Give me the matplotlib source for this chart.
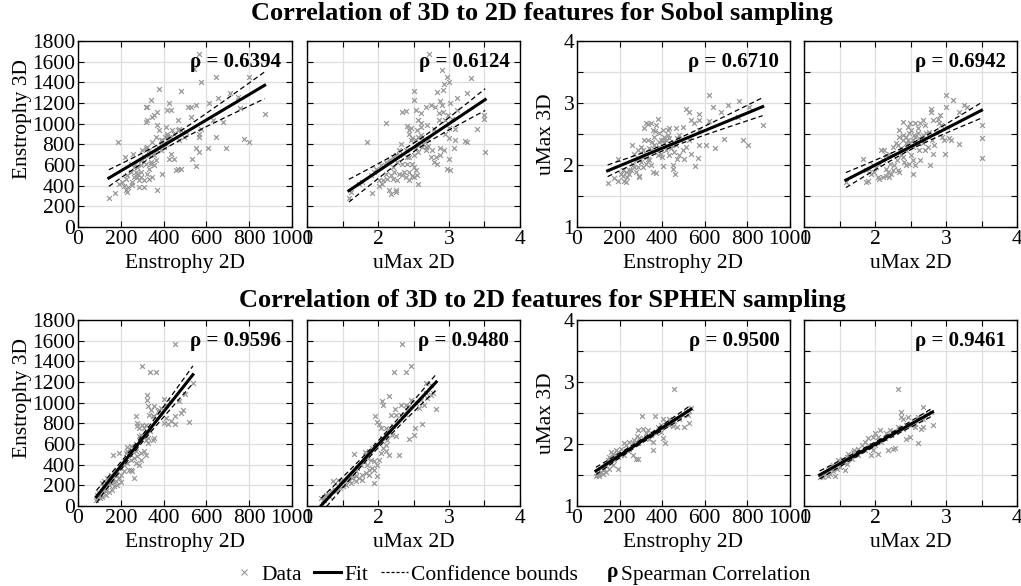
import numpy as np
import matplotlib
matplotlib.use("Agg")
from matplotlib import pyplot as plt
from matplotlib.lines import Line2D
from matplotlib.text import Text
from matplotlib.legend_handler import HandlerBase

plt.rcParams["font.family"] = ["Liberation Serif", "DejaVu Serif"]
plt.rcParams["mathtext.fontset"] = "stix"

# ---- data: (x, y) pairs per panel ----
# Sobol sampling
sobol_e2d_e3d = [
    (144, 285), (175, 330), (188, 824), (225, 362), (230, 340), (235, 388), (214, 394),
    (191, 420), (258, 711), (218, 679), (246, 614), (261, 582), (269, 533), (277, 485),
    (285, 452), (293, 533), (300, 646), (300, 743), (316, 760), (324, 776), (316, 1018),
    (324, 1034), (343, 1228), (316, 1164), (324, 1164), (347, 1067), (355, 1083),
    (371, 1115), (379, 1332), (347, 824), (332, 743), (355, 695), (371, 986), (379, 937),
    (363, 873), (387, 840), (371, 355), (394, 517), (355, 598), (339, 614), (332, 566),
    (324, 517), (347, 485), (332, 469), (308, 388), (285, 388), (254, 404), (277, 582),
    (293, 598), (316, 608), (339, 630), (363, 646), (387, 743), (402, 776), (410, 808),
    (418, 840), (426, 873), (418, 905), (410, 970), (426, 1196), (418, 1131), (434, 1131),
    (434, 873), (441, 937), (449, 905), (465, 937), (472, 953), (480, 937), (465, 1034),
    (480, 1315), (434, 711), (449, 663), (426, 663), (457, 549), (465, 566), (480, 566),
    (472, 840), (496, 873), (504, 921), (512, 1164), (527, 1164), (551, 1180), (527, 1067),
    (551, 760), (535, 663), (551, 588), (566, 727), (566, 873), (566, 905), (574, 953),
    (574, 1406), (566, 1674), (543, 1525), (613, 1202), (606, 760), (629, 1034),
    (645, 1455), (652, 1244), (645, 873), (692, 760), (676, 1018), (708, 1293),
    (747, 1260), (778, 850), (797, 824), (801, 1448), (755, 1147), (872, 1089),
    (394, 840), (405, 873), (414, 879), (399, 808), (387, 792), (374, 776), (367, 743),
    (351, 711), (332, 695), (308, 679), (293, 646), (264, 614), (246, 533), (230, 501),
    (222, 469), (207, 436), (261, 485), (250, 436), (293, 485), (308, 452), (274, 517),
]
sobol_u2d_e3d = [
    (1.59, 284), (1.62, 339), (1.84, 824), (1.91, 333), (2.02, 398), (2.07, 452),
    (2.11, 1008), (2.15, 362), (2.18, 323), (2.25, 339), (2.26, 355), (2.21, 462),
    (2.22, 533), (2.18, 501), (2.13, 469), (2.11, 517), (2.06, 420), (2.01, 452),
    (2.21, 582), (2.27, 630), (2.30, 695), (2.34, 1115), (2.40, 1125), (2.41, 976),
    (2.44, 937), (2.46, 840), (2.39, 743), (2.41, 679), (2.34, 614), (2.36, 533),
    (2.34, 501), (2.39, 485), (2.44, 533), (2.48, 614), (2.48, 491), (2.44, 452),
    (2.50, 582), (2.53, 549), (2.51, 485), (2.55, 501), (2.57, 414), (2.50, 1315),
    (2.50, 1228), (2.54, 1131), (2.57, 1034), (2.60, 1105), (2.55, 937), (2.60, 970),
    (2.47, 963), (2.44, 905), (2.48, 857), (2.53, 840), (2.56, 873), (2.60, 889),
    (2.62, 873), (2.64, 840), (2.57, 792), (2.62, 776), (2.67, 743), (2.67, 776),
    (2.71, 782), (2.71, 847), (2.63, 808), (2.69, 986), (2.68, 1164), (2.74, 1180),
    (2.79, 953), (2.80, 1164), (2.86, 1034), (2.86, 1099), (2.88, 1222), (2.90, 1180),
    (2.91, 1115), (2.99, 1083), (2.83, 1309), (2.91, 1325), (2.93, 1383), (2.97, 1454),
    (3.00, 1406), (2.90, 1519), (2.72, 1674), (3.11, 1244), (3.02, 1202), (3.25, 1293),
    (3.31, 1445), (3.11, 1131), (3.04, 1050), (2.95, 1034), (3.00, 960), (2.95, 905),
    (3.00, 857), (3.09, 840), (3.09, 953), (3.22, 834), (3.25, 824), (3.39, 944),
    (3.50, 1083), (3.50, 1041), (3.51, 727), (2.88, 760), (2.93, 743), (3.07, 760),
    (2.88, 695), (2.81, 679), (2.79, 630), (2.83, 614), (3.00, 663), (2.97, 566),
    (3.02, 549), (2.76, 743), (2.75, 679), (2.29, 743), (2.32, 808), (2.25, 695),
    (2.21, 679), (2.15, 653), (2.11, 630), (2.04, 598), (1.97, 566), (1.94, 533),
    (1.90, 501), (1.78, 436), (1.73, 414), (2.30, 517), (2.27, 452), (2.41, 614),
    (2.44, 679), (2.50, 695), (2.57, 727), (2.53, 760), (2.60, 1002),
]
sobol_e2d_u3d = [
    (144, 1.71), (175, 1.79), (191, 1.75), (191, 2.10), (214, 1.83), (222, 1.75),
    (230, 1.73), (233, 1.81), (246, 1.86), (243, 1.92), (261, 2.00), (258, 2.32),
    (277, 1.89), (285, 1.97), (290, 1.82), (300, 2.05), (308, 2.13), (316, 2.60),
    (324, 2.67), (332, 2.66), (347, 2.67), (355, 2.56), (339, 2.27), (324, 2.18),
    (332, 2.10), (347, 2.00), (355, 1.89), (371, 1.87), (368, 2.55), (379, 2.75),
    (371, 2.64), (363, 2.45), (352, 2.37), (316, 2.40), (300, 2.29), (285, 2.24),
    (269, 2.18), (371, 2.24), (387, 2.29), (394, 2.18), (402, 2.40), (410, 2.45),
    (418, 2.40), (426, 2.48), (434, 2.43), (441, 2.32), (402, 1.98), (399, 2.13),
    (434, 2.16), (449, 2.00), (449, 1.93), (460, 1.85), (426, 2.56), (434, 2.60),
    (465, 2.59), (465, 2.32), (472, 2.43), (480, 2.48), (472, 2.10), (480, 2.16),
    (488, 2.40), (496, 2.62), (504, 2.10), (512, 2.91), (527, 2.86), (535, 2.72),
    (535, 2.18), (551, 2.67), (556, 1.99), (566, 2.12), (571, 2.32), (574, 2.83),
    (574, 2.72), (571, 2.56), (527, 2.40), (512, 2.29), (496, 2.24), (457, 2.21),
    (606, 2.32), (621, 2.71), (621, 3.13), (641, 2.94), (648, 2.28), (676, 2.86),
    (692, 2.42), (708, 2.97), (762, 3.04), (755, 2.77), (778, 2.41), (801, 2.33),
    (809, 2.94), (872, 2.65), (387, 2.51), (402, 2.56), (410, 2.35), (387, 2.37),
    (363, 2.32), (347, 2.24), (332, 2.40), (316, 2.16), (293, 2.10), (277, 2.08),
    (269, 1.97), (254, 1.92), (230, 1.89), (214, 1.92), (207, 1.86), (293, 1.81),
    (308, 1.97), (324, 2.02), (339, 2.08), (308, 2.24), (379, 2.16), (418, 2.24),
    (441, 2.27), (457, 2.35), (394, 2.40),
]
sobol_u2d_u3d = [
    (1.59, 1.73), (1.83, 2.10), (1.87, 1.73), (1.90, 1.75), (1.94, 1.86), (1.99, 1.89),
    (2.04, 1.81), (2.06, 1.78), (2.08, 2.24), (2.13, 2.25), (2.11, 1.81), (2.15, 1.83),
    (2.18, 1.89), (2.20, 1.81), (2.22, 1.86), (2.25, 1.92), (2.27, 2.00), (2.32, 1.92),
    (2.34, 1.89), (2.32, 2.32), (2.34, 2.56), (2.39, 2.70), (2.36, 2.27), (2.39, 2.13),
    (2.41, 2.05), (2.43, 2.24), (2.44, 2.35), (2.47, 2.40), (2.48, 2.51), (2.49, 2.67),
    (2.53, 2.40), (2.53, 2.29), (2.50, 2.16), (2.53, 2.08), (2.54, 1.85), (2.48, 2.02),
    (2.43, 2.00), (2.57, 2.45), (2.57, 2.67), (2.60, 2.51), (2.61, 2.35), (2.62, 2.24),
    (2.64, 2.67), (2.67, 2.72), (2.69, 2.40), (2.71, 2.24), (2.64, 2.08), (2.57, 2.00),
    (2.71, 2.64), (2.72, 2.51), (2.76, 2.53), (2.77, 2.00), (2.79, 2.91), (2.79, 2.86),
    (2.81, 2.72), (2.80, 2.40), (2.82, 2.18), (2.83, 2.32), (2.86, 2.53), (2.88, 2.75),
    (2.90, 2.67), (2.91, 2.80), (2.93, 2.64), (2.94, 2.45), (2.97, 2.40), (2.99, 2.18),
    (3.00, 2.94), (3.00, 3.13), (3.02, 2.62), (3.04, 2.43), (3.07, 2.40), (3.10, 3.05),
    (3.18, 2.86), (3.18, 2.34), (3.25, 2.97), (3.30, 2.94), (3.50, 2.64), (3.50, 2.43),
    (3.50, 2.12), (2.39, 2.40), (2.34, 2.45), (2.29, 2.35), (2.25, 2.29), (2.20, 2.18),
    (2.15, 2.16), (2.11, 2.08), (2.06, 2.02), (2.01, 1.97), (1.97, 2.00), (1.92, 1.94),
    (1.87, 1.92), (2.39, 2.48), (2.43, 2.45), (2.48, 2.35), (2.55, 2.48), (2.62, 2.43),
    (2.67, 2.48), (2.50, 2.56), (2.46, 2.62), (2.60, 2.59), (2.67, 2.35), (2.74, 2.29),
    (2.25, 2.16), (2.31, 2.08), (2.36, 2.16), (2.15, 1.94), (2.21, 2.02),
]

# SPHEN sampling
sphen_e2d_e3d = [
    (451, 1568), (301, 1358), (337, 1297), (364, 1297), (537, 1190), (521, 813),
    (501, 1084), (474, 1013), (482, 900), (451, 868), (400, 1036), (411, 981),
    (432, 1013), (388, 949), (356, 965), (353, 868), (322, 1071), (322, 1029),
    (325, 965), (341, 932), (333, 884), (349, 868), (372, 916), (380, 932), (411, 852),
    (403, 803), (419, 794), (435, 820), (451, 794), (490, 932), (270, 868), (278, 803),
    (286, 755), (275, 771), (301, 787), (309, 755), (317, 787), (317, 706), (317, 642),
    (338, 723), (356, 658), (294, 690), (286, 674), (325, 658), (325, 610), (349, 642),
    (270, 600), (246, 577), (231, 568), (228, 529), (223, 513), (191, 513), (165, 497),
    (254, 545), (270, 529), (294, 513), (309, 529), (317, 497), (294, 448), (278, 481),
    (262, 465), (246, 448), (231, 416), (215, 400), (199, 368), (184, 335), (176, 303),
    (160, 271), (144, 239), (129, 190), (113, 142), (97, 94), (89, 77), (86, 61),
    (105, 110), (121, 158), (141, 213), (157, 255), (168, 319), (246, 352), (254, 335),
    (270, 416), (286, 400), (262, 271), (238, 352), (215, 335), (199, 303), (191, 271),
    (176, 245), (160, 223), (144, 206), (121, 239), (113, 223), (118, 190), (129, 142),
    (157, 158), (168, 190), (184, 206), (199, 232), (176, 287), (152, 303), (136, 271),
    (97, 126), (89, 110), (105, 77), (113, 84), (129, 110), (144, 135),
]
sphen_u2d_e3d = [
    (2.34, 1568), (2.22, 1297), (2.39, 1297), (2.47, 1358), (2.82, 942), (2.68, 1190),
    (2.78, 1094), (2.74, 1077), (2.62, 794), (2.52, 755), (2.50, 684), (2.44, 652),
    (2.29, 490), (2.46, 1029), (2.44, 965), (2.41, 932), (2.39, 974), (2.32, 974),
    (2.24, 942), (2.18, 884), (2.25, 884), (2.32, 884), (2.38, 890), (2.16, 1068),
    (2.05, 1013), (2.07, 974), (1.96, 868), (1.99, 813), (2.01, 794), (2.04, 755),
    (2.11, 755), (2.15, 739), (2.21, 771), (2.26, 674), (2.20, 690), (2.11, 690),
    (2.06, 658), (2.13, 642), (2.11, 594), (2.07, 561), (2.11, 529), (2.16, 497),
    (2.04, 513), (1.97, 594), (1.92, 561), (1.87, 529), (1.83, 497), (1.66, 503),
    (1.81, 519), (1.85, 464), (1.90, 448), (1.94, 432), (1.99, 400), (2.02, 448),
    (1.92, 368), (1.87, 352), (1.85, 400), (1.95, 352), (1.87, 303), (1.99, 287),
    (1.94, 223), (1.83, 319), (1.78, 303), (1.80, 432), (1.76, 400), (1.71, 368),
    (1.69, 335), (1.66, 319), (1.64, 303), (1.59, 277), (1.57, 255), (1.52, 239),
    (1.48, 213), (1.43, 190), (1.38, 168), (1.34, 142), (1.29, 116), (1.24, 84),
    (1.22, 61), (1.36, 245), (1.43, 255), (1.48, 239), (1.59, 255), (1.64, 271),
    (1.69, 287), (1.73, 271), (1.78, 255), (1.69, 239), (1.62, 223), (1.55, 206),
    (1.50, 190), (1.46, 174), (1.41, 148), (1.27, 110), (1.31, 94), (1.20, 77),
    (1.24, 61), (2.67, 1094), (2.60, 1029), (2.53, 997), (2.58, 948), (2.65, 974),
    (2.69, 1045), (2.74, 1174),
]
sphen_e2d_u3d = [
    (454, 2.88), (305, 2.45), (368, 2.45), (405, 2.41), (434, 2.41), (465, 2.42),
    (524, 2.34), (504, 2.27), (472, 2.27), (449, 2.29), (405, 2.09), (415, 2.01),
    (358, 1.90), (394, 2.19), (371, 2.17), (347, 2.14), (324, 2.17), (332, 2.22),
    (308, 2.25), (285, 2.22), (280, 2.13), (293, 2.09), (269, 2.06), (261, 2.01),
    (285, 2.01), (246, 2.03), (230, 1.98), (222, 2.01), (207, 1.92), (191, 1.87),
    (183, 1.90), (168, 1.84), (152, 1.79), (144, 1.74), (160, 1.87), (176, 1.82),
    (191, 1.79), (152, 1.71), (277, 1.76), (285, 1.76), (261, 1.82), (238, 1.88),
    (222, 1.82), (207, 1.83), (191, 1.60), (136, 1.66), (129, 1.60), (121, 1.58),
    (113, 1.55), (105, 1.52), (97, 1.51), (89, 1.49), (105, 1.49), (121, 1.51),
    (136, 1.55), (152, 1.60), (168, 1.66), (160, 1.70), (176, 1.74), (246, 1.92),
    (308, 2.09), (339, 2.08), (355, 2.03), (379, 2.27), (394, 2.30), (418, 2.35),
    (434, 2.31), (457, 2.37), (480, 2.41), (496, 2.46), (512, 2.51), (527, 2.54),
    (535, 2.58), (520, 2.46),
]
sphen_u2d_u3d = [
    (2.33, 2.88), (2.68, 2.60), (2.81, 2.31), (2.36, 2.51), (2.36, 2.44), (2.39, 2.41),
    (2.46, 2.44), (2.44, 2.30), (2.51, 2.30), (2.56, 2.27), (2.67, 2.27), (2.65, 2.25),
    (2.61, 2.01), (2.44, 2.08), (2.49, 2.11), (2.32, 2.27), (2.25, 2.19), (2.21, 2.22),
    (2.16, 2.17), (2.28, 1.94), (2.18, 1.90), (2.25, 1.92), (2.07, 2.22), (2.00, 2.17),
    (2.04, 2.11), (1.97, 2.11), (1.90, 2.09), (1.86, 2.03), (1.90, 1.98), (1.95, 1.95),
    (1.97, 1.90), (1.95, 1.82), (2.04, 1.84), (1.81, 1.98), (1.76, 1.92), (1.71, 1.90),
    (1.69, 1.87), (1.62, 1.84), (1.60, 1.79), (1.53, 1.76), (1.48, 1.74), (1.60, 1.68),
    (1.58, 1.58), (1.41, 1.66), (1.39, 1.63), (1.36, 1.60), (1.34, 1.58), (1.29, 1.54),
    (1.25, 1.49), (1.22, 1.47), (1.27, 1.47), (1.32, 1.51), (1.36, 1.52), (1.41, 1.56),
    (1.46, 1.59), (1.50, 1.63), (1.55, 1.71), (1.67, 1.76), (1.76, 1.82), (1.86, 1.90),
    (2.00, 1.98), (2.09, 2.03), (2.14, 2.09), (2.23, 2.14), (2.30, 2.19), (2.39, 2.25),
    (2.56, 2.33), (2.63, 2.41), (2.70, 2.46), (2.74, 2.49), (2.79, 2.52), (2.60, 2.44),
    (2.67, 2.41), (1.43, 1.49), (1.34, 1.49),
]

sobol_rho = [0.6394, 0.6124, 0.6710, 0.6942]
sphen_rho = [0.9596, 0.9480, 0.9500, 0.9461]
row_titles = ["Correlation of 3D to 2D features for Sobol sampling",
              "Correlation of 3D to 2D features for SPHEN sampling"]
x_labels = ["Enstrophy 2D", "uMax 2D", "Enstrophy 2D", "uMax 2D"]
y_labels = ["Enstrophy 3D", None, "uMax 3D", None]

data_color = (0.6, 0.6, 0.6)
grid_color = (0.87, 0.87, 0.87)
T95 = 1.98  # two sided t quantile, n ~ 100-200
fs = 15.5


class RhoHandle:
    pass


class RhoHandler(HandlerBase):
    def create_artists(self, legend, orig_handle, xdescent, ydescent,
                       width, height, fontsize, trans):
        t = Text(width - xdescent, height / 2 - ydescent, "ρ", fontweight="bold",
                 ha="right", va="center", fontsize=fontsize, transform=trans)
        return [t]


def fit_with_bounds(x, y):
    b, a = np.polyfit(x, y, 1)
    xs = np.linspace(x.min(), x.max(), 60)
    n = len(x)
    res = y - (a + b * x)
    s = np.sqrt(np.sum(res ** 2) / (n - 2))
    sxx = np.sum((x - x.mean()) ** 2)
    half = T95 * s * np.sqrt(1 / n + (xs - x.mean()) ** 2 / sxx)
    fit = a + b * xs
    return xs, fit, fit - half, fit + half


def style_axis(ax, kind_x, kind_y, show_ylabels):
    if kind_x == "ens":
        ax.set_xlim(0, 1000)
        ax.set_xticks(np.arange(0, 1001, 200))
    else:
        ax.set_xlim(1, 4)
        ax.set_xticks(np.arange(1, 4.01, 0.5))
        ax.set_xticklabels(["1", "", "2", "", "3", "", "4"])
    if kind_y == "ens":
        ax.set_ylim(0, 1800)
        ax.set_yticks(np.arange(0, 1801, 200))
    else:
        ax.set_ylim(1, 4)
        ax.set_yticks(np.arange(1, 4.01, 0.5))
        ax.set_yticklabels(["1", "", "2", "", "3", "", "4"])
    if not show_ylabels:
        ax.tick_params(labelleft=False)
    ax.grid(True, color=grid_color, linewidth=0.9)
    ax.set_axisbelow(True)
    ax.tick_params(direction="in", length=4, width=0.8, top=True, right=True,
                   labelsize=fs, pad=2, colors="black")
    for sp in ax.spines.values():
        sp.set_linewidth(1.0)
        sp.set_color("black")


def main():
    fig = plt.figure(figsize=(10.21, 5.86), dpi=100)
    lefts = [0.0764, 0.3007, 0.5651, 0.7875]
    widths = [0.2096, 0.2086, 0.2086, 0.2086]
    bottoms = [0.6126, 0.1365]
    height = 0.3174

    rows = [
        [sobol_e2d_e3d, sobol_u2d_e3d, sobol_e2d_u3d, sobol_u2d_u3d],
        [sphen_e2d_e3d, sphen_u2d_e3d, sphen_e2d_u3d, sphen_u2d_u3d],
    ]
    rhos = [sobol_rho, sphen_rho]
    kinds = [("ens", "ens"), ("u", "ens"), ("ens", "u"), ("u", "u")]
    title_y = [0.977, 0.488]

    for r in range(2):
        for c in range(4):
            ax = fig.add_axes([lefts[c], bottoms[r], widths[c], height])
            pts = np.array(rows[r][c], dtype=float)
            x, y = pts[:, 0], pts[:, 1]
            ax.scatter(x, y, marker="x", s=12, color=data_color, linewidths=0.9, zorder=2)
            xs, fit, lo, hi = fit_with_bounds(x, y)
            ax.plot(xs, fit, color="black", linewidth=2.2, zorder=3)
            ax.plot(xs, lo, color="black", linewidth=0.9, linestyle=(0, (4, 2.5)), zorder=3)
            ax.plot(xs, hi, color="black", linewidth=0.9, linestyle=(0, (4, 2.5)), zorder=3)
            style_axis(ax, kinds[c][0], kinds[c][1], y_labels[c] is not None)
            ax.set_xlabel(x_labels[c], fontsize=fs, labelpad=4)
            if y_labels[c] is not None:
                ax.set_ylabel(y_labels[c], fontsize=fs)
                if c == 0:
                    ax.yaxis.set_label_coords(-0.215, 0.58)
                else:
                    ax.yaxis.set_label_coords(-0.1, 0.5)
            ax.text(0.95, 0.885, f"ρ = {rhos[r][c]:.4f}", transform=ax.transAxes,
                    ha="right", va="center", fontsize=15, fontweight="bold", zorder=4)
        fig.text(0.531, title_y[r], row_titles[r], ha="center", va="center",
                 fontsize=19, fontweight="bold")

    handles = [
        Line2D([], [], marker="x", linestyle="none", color=data_color, markersize=4,
               markeredgewidth=0.8),
        Line2D([], [], color="black", linewidth=2.2),
        Line2D([], [], color="black", linewidth=0.9, linestyle=(0, (2.5, 1.5))),
        RhoHandle(),
    ]
    labels = ["Data", "Fit", "Confidence bounds", "Spearman Correlation"]
    fig.legend(handles, labels, loc="center", bbox_to_anchor=(0.51, 0.019), ncol=4,
               frameon=False, fontsize=fs, handlelength=1.25, handletextpad=0.15,
               columnspacing=0.6, handler_map={RhoHandle: RhoHandler()})

    fig.savefig("out.png", dpi=100)


if __name__ == "__main__":
    main()
